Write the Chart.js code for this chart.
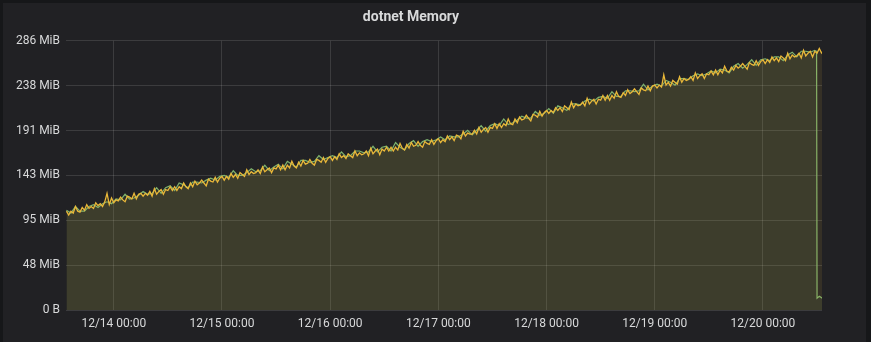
<!DOCTYPE html>
<html>
<head>
<meta charset="utf-8">
<script src="https://cdn.jsdelivr.net/npm/chart.js@4/dist/chart.umd.min.js"></script>
<style>
  html, body { margin: 0; padding: 0; background: #161719; }
  #panel { position: absolute; left: 3px; top: 3px; width: 863px; height: 345px; background: #212124; }
  #c { position: absolute; left: 0; top: 0; }
</style>
</head>
<body>
<div id="panel"></div>
<canvas id="c" width="871" height="342"></canvas>
<script>
  // hours relative to 12/14 00:00
  const yellowStartHour = -10.5, yellowStepHours = 0.5;
  const greenStartHour  = -10.5, greenStepHours  = 1;

  const yellowMiB = [
    105,101,105,103,110,105,104,109,106,112,108,110,
    108,114,111,113,110,115,124,112,119,114,117,116,
    120,117,115,121,120,118,124,118,123,124,121,124,
    122,126,121,129,123,126,128,123,128,127,131,127,
    131,127,131,129,135,131,129,135,131,137,133,135,
    138,135,132,139,137,136,141,136,140,142,138,142,
    139,145,141,144,140,146,144,142,149,144,147,145,
    146,149,145,152,147,149,151,146,151,150,154,149,
    154,149,154,151,158,153,151,157,153,159,155,156,
    160,156,154,160,159,157,162,157,161,163,159,163,
    160,166,162,164,161,166,164,162,169,164,167,165,
    166,169,164,172,166,169,171,165,171,169,173,169,
    173,169,173,170,177,172,170,176,172,178,174,175,
    179,175,173,179,177,176,181,176,180,182,178,181,
    179,185,181,184,180,186,185,182,190,185,188,187,
    187,191,187,194,189,192,194,189,194,193,198,193,
    198,194,198,196,203,198,197,203,199,205,202,203,
    207,204,201,208,207,205,211,206,210,212,209,212,
    210,215,212,215,211,217,215,213,221,215,219,217,
    218,221,217,225,219,222,224,219,224,223,228,223,
    228,223,228,225,232,227,226,231,228,234,230,232,
    235,232,229,236,234,233,238,233,238,239,236,239,
    237,250,239,242,238,244,242,240,248,242,246,244,
    245,248,244,252,246,249,251,246,251,250,254,250,
    255,250,255,252,259,254,253,258,255,260,257,259,
    262,259,256,263,261,260,265,260,264,266,262,266,
    263,269,265,268,264,270,268,265,273,267,271,269,
    270,273,268,276,270,273,275,269,275,273,278,273,
    276
  ];

  const greenMiB = [
    106,103,110,105,105,110,112,109,113,115,113,
    118,117,123,118,119,122,126,123,124,130,124,130,
    132,127,135,133,130,136,136,135,138,140,138,142,
    143,141,148,143,143,146,150,147,148,154,148,152,
    155,150,158,155,152,159,159,157,158,164,160,162,
    164,162,168,163,164,169,169,167,168,174,168,173,
    174,169,178,173,170,177,180,174,179,181,179,181,
    184,181,185,184,184,187,191,186,191,196,190,196,
    198,196,203,197,199,202,206,204,204,211,207,209,
    214,209,217,215,212,219,219,218,222,224,222,226,
    227,225,232,227,227,233,233,232,233,240,234,238,
    240,238,244,242,239,246,246,245,249,251,249,251,
    254,252,256,255,252,259,262,257,261,266,260,266,
    267,265,269,269,265,271,274,269,275,275,274,276
  ];
  // green series drops right before the end
  const greenTailHours = [155.9, 156.0, 156.5, 157.2];
  const greenTailMiB   = [275, 12.5, 14.5, 12.5];

  const xTickHours  = [0, 24, 48, 72, 96, 120, 144];
  const xTickLabels = ['12/14 00:00','12/15 00:00','12/16 00:00','12/17 00:00','12/18 00:00','12/19 00:00','12/20 00:00'];
  const yTickMiB    = [0, 47.684, 95.367, 143.051, 190.735, 238.419, 286.102];
  const yTickLabels = ['0 B','48 MiB','95 MiB','143 MiB','191 MiB','238 MiB','286 MiB'];

  const toPoints = (arr, start, step) => arr.map((v, i) => ({ x: start + i * step, y: v }));
  const greenPts = toPoints(greenMiB, greenStartHour, greenStepHours)
    .concat(greenTailHours.map((h, i) => ({ x: h, y: greenTailMiB[i] })));

  const txt = '#d8d9da';
  const grid = 'rgba(255,255,255,0.12)';

  new Chart(document.getElementById('c'), {
    type: 'line',
    data: {
      datasets: [
        { label: 'yellow', data: toPoints(yellowMiB, yellowStartHour, yellowStepHours),
          borderColor: '#EAB839', backgroundColor: 'rgba(234,184,57,0.1)',
          borderWidth: 1.3, pointRadius: 0, fill: 'origin', tension: 0, order: 0 },
        { label: 'green', data: greenPts,
          borderColor: '#7EB26D', backgroundColor: 'rgba(126,178,109,0.1)',
          borderWidth: 1.2, pointRadius: 0, fill: 'origin', tension: 0, order: 1 }
      ]
    },
    options: {
      responsive: false, animation: false, devicePixelRatio: 1,
      layout: { padding: { left: 0, right: 49, top: 0, bottom: 0 } },
      plugins: {
        legend: { display: false },
        tooltip: { enabled: false },
        title: { display: true, text: 'dotnet Memory', color: txt,
                 font: { family: 'Roboto', size: 14, weight: 'bold' }, padding: { top: 9, bottom: 15 } }
      },
      scales: {
        x: {
          type: 'linear', min: -10.6, max: 157.1,
          afterBuildTicks: ax => { ax.ticks = xTickHours.map(v => ({ value: v })); },
          afterFit: ax => { ax.height = 32; },
          ticks: { color: txt, font: { family: 'Roboto', size: 12 }, padding: 7, maxRotation: 0, autoSkip: false,
                   callback: (v) => xTickLabels[xTickHours.indexOf(v)] },
          grid: { color: grid, drawTicks: false },
          border: { display: false }
        },
        y: {
          min: 0, max: 286.102,
          afterBuildTicks: ax => { ax.ticks = yTickMiB.map(v => ({ value: v })); },
          afterFit: ax => { ax.width = 66; },
          ticks: { color: txt, font: { family: 'Roboto', size: 12 }, padding: 6, autoSkip: false,
                   callback: (v) => yTickLabels[yTickMiB.indexOf(v)] },
          grid: { color: grid, drawTicks: false },
          border: { display: false }
        }
      }
    }
  });
</script>
</body>
</html>
